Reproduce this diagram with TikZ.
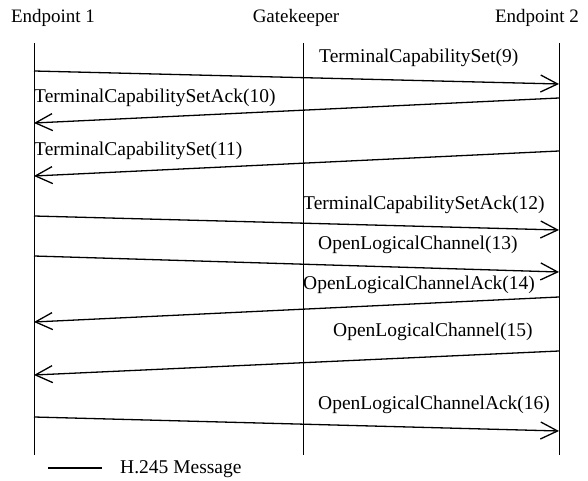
\documentclass[tikz,border=0pt]{standalone}
\usepackage{fontspec}
\setmainfont{Liberation Serif}
\usetikzlibrary{arrows.meta}
\begin{document}
\begin{tikzpicture}[x=1pt,y=-1pt,
  lifeline/.style={line width=0.9pt},
  msg/.style={line width=1.3pt,-{Straight Barb[length=17pt,width=17pt,line width=1.3pt]}},
  hdr/.style={font=\fontsize{19}{22}\selectfont,inner sep=0pt,anchor=base},
  lbl/.style={font=\fontsize{19.5}{22}\selectfont,inner sep=0pt,anchor=base west}]
\useasboundingbox (0,0) rectangle (588,481);
% participants
\node[hdr] (ep1) at (53,23) {Endpoint 1};
\node[hdr] (gk) at (296,23) {Gatekeeper};
\node[hdr] (ep2) at (537,23) {Endpoint 2};
% lifelines
\coordinate (e1top) at (34,43);  \coordinate (e1bot) at (34,455);
\coordinate (gtop) at (303,43);  \coordinate (gbot) at (303,455);
\coordinate (e2top) at (559,43); \coordinate (e2bot) at (559,455);
\draw[lifeline] (e1top) -- (e1bot);
\draw[lifeline] (gtop) -- (gbot);
\draw[lifeline] (e2top) -- (e2bot);
% message end points
\coordinate (a1) at (34,71);   \coordinate (b1) at (559,84);
\coordinate (a2) at (559,98);  \coordinate (b2) at (34,123);
\coordinate (a3) at (559,151); \coordinate (b3) at (34,176);
\coordinate (a4) at (34,216);  \coordinate (b4) at (559,230);
\coordinate (a5) at (34,256);  \coordinate (b5) at (559,272);
\coordinate (a6) at (559,297); \coordinate (b6) at (34,322);
\coordinate (a7) at (559,351); \coordinate (b7) at (34,375);
\coordinate (a8) at (34,417);  \coordinate (b8) at (559,431);
% messages
\draw[msg] (a1) -- (b1);
\draw[msg] (a2) -- (b2);
\draw[msg] (a3) -- (b3);
\draw[msg] (a4) -- (b4);
\draw[msg] (a5) -- (b5);
\draw[msg] (a6) -- (b6);
\draw[msg] (a7) -- (b7);
\draw[msg] (a8) -- (b8);
% message labels
\node[lbl] (l1) at (319,63)  {TerminalCapabilitySet(9)};
\node[lbl] (l2) at (34,103)  {TerminalCapabilitySetAck(10)};
\node[lbl] (l3) at (34,156)  {TerminalCapabilitySet(11)};
\node[lbl] (l4) at (303,209) {TerminalCapabilitySetAck(12)};
\node[lbl] (l5) at (318,249) {OpenLogicalChannel(13)};
\node[lbl] (l6) at (303,289) {OpenLogicalChannelAck(14)};
\node[lbl] (l7) at (333,336) {OpenLogicalChannel(15)};
\node[lbl] (l8) at (318,409) {OpenLogicalChannelAck(16)};
% legend
\coordinate (k1) at (48,468); \coordinate (k2) at (102,468);
\draw[line width=1.2pt] (k1) -- (k2);
\node[lbl] (key) at (120,473) {H.245 Message};
\end{tikzpicture}
\end{document}
